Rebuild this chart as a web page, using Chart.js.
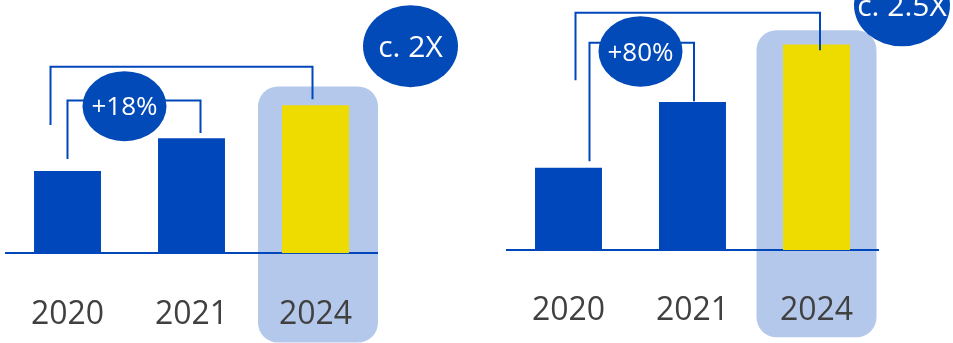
<!DOCTYPE html>
<html><head><meta charset="utf-8">
<script src="https://cdn.jsdelivr.net/npm/chart.js@4.4.1/dist/chart.umd.min.js"></script>
<style>html,body{margin:0;padding:0;background:#fff;overflow:hidden;width:953px;height:343px}
canvas{position:absolute;left:0;top:0}</style></head>
<body>
<canvas id="c1" width="953" height="343"></canvas>
<canvas id="c2" width="953" height="343"></canvas>
<script>
// ---- data ----
const categories = ['2020', '2021', '2024'];
const leftValues = [100, 140, 180];
const rightValues = [100, 180, 250];
const barColors = ['#0047BB', '#0047BB', '#EEDC00'];
const leftBadges = ['+18%', 'c. 2X'];
const rightBadges = ['+80%', 'c. 2.5X'];

const BLUE = '#0047BB';
const FONT = '"Open Sans", "DejaVu Sans", sans-serif';

// decoration layout (offsets relative to category centres / value levels)
const leftDeco = {
  highlight: { index: 2, dxL: -57.5, dxR: 62.5, topVal: 203, bottomPx: 342.5 },
  brackets: [
    { i1: 0, dx1: -17, end1: 156, i2: 2, dx2: -3, end2: 187.5, level: 227 },
    { i1: 0, dx1: 0, end1: 114.6, i2: 1, dx2: 9, end2: 146.5, level: 186 }
  ],
  badges: [
    { i: 0, dx: 57, val: 179, rx: 42, ry: 35, size: 26, text: leftBadges[0] },
    { i: 2, dx: 95, val: 252, rx: 47.5, ry: 41, size: 30, text: leftBadges[1] }
  ]
};
const rightDeco = {
  highlight: { index: 2, dxL: -60, dxR: 60, topVal: 267.4, bottomPx: 337.3 },
  brackets: [
    { i1: 0, dx1: 7, end1: 206.5, i2: 2, dx2: 3.5, end2: 243, level: 288.7 },
    { i1: 0, dx1: 21, end1: 108, i2: 1, dx2: 1.5, end2: 181, level: 252 }
  ],
  badges: [
    { i: 0, dx: 72, val: 241.5, rx: 42, ry: 35.3, size: 26, text: rightBadges[0] },
    { i: 2, dx: 85.5, val: 297.6, rx: 48, ry: 41, size: 30, text: rightBadges[1] }
  ]
};

function decoPlugin(deco) {
  return {
    id: 'deco',
    beforeDraw(chart) {
      const ctx = chart.ctx, x = chart.scales.x, y = chart.scales.y;
      const h = deco.highlight;
      const cx = x.getPixelForValue(h.index);
      const top = y.getPixelForValue(h.topVal);
      ctx.save();
      ctx.fillStyle = '#B4C8EB';
      ctx.beginPath();
      ctx.roundRect(cx + h.dxL, top, h.dxR - h.dxL, h.bottomPx - top, 20);
      ctx.fill();
      ctx.restore();
    },
    afterDatasetsDraw(chart) {
      const ctx = chart.ctx, x = chart.scales.x, y = chart.scales.y;
      ctx.save();
      ctx.strokeStyle = BLUE;
      ctx.lineWidth = 2;
      deco.brackets.forEach(b => {
        const x1 = x.getPixelForValue(b.i1) + b.dx1;
        const x2 = x.getPixelForValue(b.i2) + b.dx2;
        const yl = y.getPixelForValue(b.level);
        ctx.beginPath();
        ctx.moveTo(x1, y.getPixelForValue(b.end1));
        ctx.lineTo(x1, yl);
        ctx.lineTo(x2, yl);
        ctx.lineTo(x2, y.getPixelForValue(b.end2));
        ctx.stroke();
      });
      deco.badges.forEach(g => {
        const cx = x.getPixelForValue(g.i) + g.dx;
        const cy = y.getPixelForValue(g.val);
        ctx.fillStyle = '#034AB9';
        ctx.beginPath();
        ctx.ellipse(cx, cy, g.rx, g.ry, 0, 0, Math.PI * 2);
        ctx.fill();
        ctx.fillStyle = '#ffffff';
        ctx.font = g.size + 'px ' + FONT;
        ctx.textAlign = 'center';
        ctx.textBaseline = 'alphabetic';
        ctx.fillText(g.text, cx, cy + 0.357 * g.size);
      });
      ctx.restore();
    }
  };
}

function makeChart(id, values, deco, pad, axisH) {
  return new Chart(document.getElementById(id), {
    type: 'bar',
    data: {
      labels: categories,
      datasets: [{ data: values, backgroundColor: barColors, borderWidth: 0,
        barPercentage: 0.54, categoryPercentage: 1 }]
    },
    options: {
      responsive: false,
      animation: false,
      devicePixelRatio: 1,
      layout: { padding: pad },
      plugins: { legend: { display: false }, tooltip: { enabled: false } },
      scales: {
        x: {
          grid: { display: false, drawTicks: false },
          border: { display: true, color: BLUE, width: 2 },
          ticks: { color: '#404040', font: { family: FONT, size: 32 }, padding: 42 },
          afterFit: s => { s.height = axisH; s.paddingLeft = 0; s.paddingRight = 0; }
        },
        y: { display: false, min: 0, max: 300 }
      }
    },
    plugins: [decoPlugin(deco)]
  });
}

makeChart('c1', leftValues, leftDeco, { left: 5.5, right: 575.5, top: 6.7, bottom: 0 }, 89.7);
makeChart('c2', rightValues, rightDeco, { left: 506.5, right: 74.5, top: 3.4, bottom: 0 }, 93);
</script>
</body></html>
